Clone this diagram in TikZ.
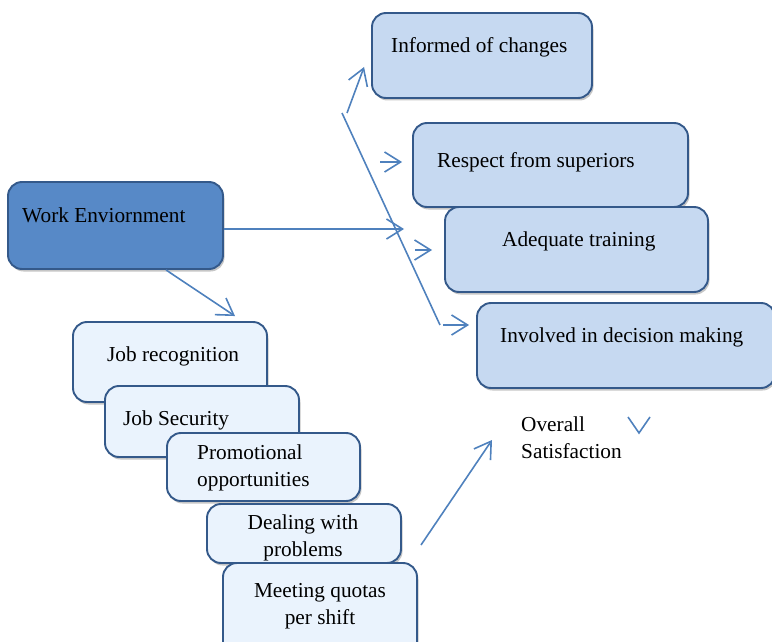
\documentclass[tikz,border=0pt]{standalone}
\usepackage{fontspec}
\setmainfont{Liberation Serif}
\usetikzlibrary{arrows.meta,shadows,calc}
\definecolor{lnblue}{HTML}{4F81BD}
\definecolor{bordblue}{HTML}{34598A}
\definecolor{rfill}{HTML}{C6D9F1}
\definecolor{lfill}{HTML}{EAF3FD}
\definecolor{wfill}{HTML}{5789C7}
\begin{document}
\begin{tikzpicture}[x=1pt,y=-1pt,
  box/.style={draw=bordblue, line width=1.9pt, rounded corners=14pt, inner sep=0pt,
    drop shadow={shadow xshift=1.5pt,shadow yshift=-2.5pt,opacity=0.45}},
  rbox/.style={box, fill=rfill},
  lbox/.style={box, fill=lfill},
  wbox/.style={box, fill=wfill},
  txt/.style={inner sep=0pt, font=\fontsize{21.3}{27}\selectfont},
  conn/.style={draw=lnblue, line width=1.6pt, -{Straight Barb[length=16pt,width=20pt]}},
  plainln/.style={draw=lnblue, line width=1.6pt}]
\clip (0,0) rectangle (772,642);
% right column
\node[rbox, minimum width=220, minimum height=85] (inf) at (482,55.5) {};
\node[txt, anchor=base west] (infT) at (391,53) {Informed of changes};
\node[rbox, minimum width=275, minimum height=84] (res) at (550.5,165) {};
\node[txt, anchor=base west] (resT) at (437,167) {Respect from superiors};
\node[rbox, minimum width=263, minimum height=85] (ade) at (576.5,249.5) {};
\node[txt, anchor=base west] (adeT) at (502,246) {Adequate training};
\node[rbox, minimum width=298, minimum height=85] (inv) at (626,345.5) {};
\node[txt, anchor=base west] (invT) at (500,342) {Involved in decision making};
% work environment
\node[wbox, minimum width=215, minimum height=87] (work) at (115.5,225.5) {};
\node[txt, anchor=base west] (workT) at (22,222) {Work Enviornment};
% left stack
\node[lbox, minimum width=194, minimum height=80] (jr) at (170,362) {};
\node[txt, anchor=base west] (jrT) at (107,361) {Job recognition};
\node[lbox, minimum width=194, minimum height=71] (js) at (202,421.5) {};
\node[txt, anchor=base west] (jsT) at (123,425) {Job Security};
\node[lbox, minimum width=193, minimum height=68] (pro) at (263.5,467) {};
\node[txt, anchor=base west] (proT) at (197,459) {\begin{tabular}[t]{@{}l@{}}Promotional\\opportunities\end{tabular}};
\node[lbox, minimum width=194, minimum height=59] (deal) at (304,533.5) {};
\node[txt, anchor=base] (dealT) at (303,529) {\begin{tabular}[t]{@{}c@{}}Dealing with\\problems\end{tabular}};
\node[lbox, minimum width=194, minimum height=97] (meet) at (320,611.5) {};
\node[txt, anchor=base] (meetT) at (320,597) {\begin{tabular}[t]{@{}c@{}}Meeting quotas\\per shift\end{tabular}};
% overall satisfaction
\node[txt, anchor=base west] (satT) at (521,431) {\begin{tabular}[t]{@{}l@{}}Overall\\Satisfaction\end{tabular}};
% free ends
\coordinate (upS) at (347,113);
\coordinate (lnS) at (342,113);
\coordinate (lnE) at (440,325);
\coordinate (rS) at (380,162);
\coordinate (aS) at (415,250);
\coordinate (iS) at (443,325);
\coordinate (oS) at (421,545);
\coordinate (oE) at (492,440);
\coordinate (v1) at (628,417);
\coordinate (v2) at (639,433);
\coordinate (v3) at (650,417);
% connectors
\draw[conn] ($(work.east)+(0,3.5)$) -- (404,229);
\draw[conn] ($(work.south)+(50.5,0)$) -- ($(jr.north)+(65,-5)$);
\draw[conn] (upS) -- ($(inf.west)+(-7,11.5)$);
\draw[plainln] (lnS) -- (lnE);
\draw[conn] (rS) -- ($(res.west)+(-10,-3)$);
\draw[conn] (aS) -- ($(ade.west)+(-12,0.5)$);
\draw[conn] (iS) -- ($(inv.west)+(-7,-20.5)$);
\draw[conn] (oS) -- (oE);
\draw[plainln] (v1) -- (v2) -- (v3);
\end{tikzpicture}
\end{document}
